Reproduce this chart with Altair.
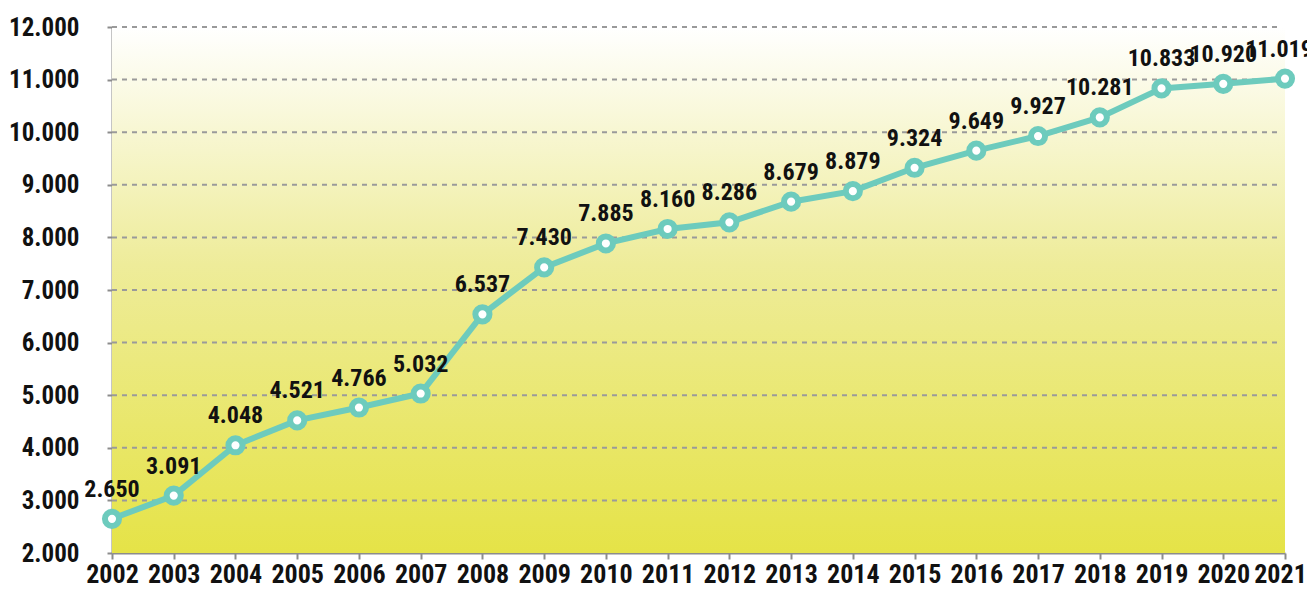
import altair as alt
import pandas as pd

years = list(range(2002, 2022))
values = [2650, 3091, 4048, 4521, 4766, 5032, 6537, 7430, 7885, 8160,
          8286, 8679, 8879, 9324, 9649, 9927, 10281, 10833, 10920, 11019]
y_ticks = [2000, 3000, 4000, 5000, 6000, 7000, 8000, 9000, 10000, 11000, 12000]
grid_values = y_ticks[1:]

FONT = "'Roboto Condensed', 'Open Sans Condensed', sans-serif"
TEAL = "#6dcbbd"
AXIS_GREY = "#8c8c8c"

df = pd.DataFrame({
    "year": years,
    "value": values,
    "label": [f"{v:,}".replace(",", ".") for v in values],
})
bg = pd.DataFrame({"x": [years[0]], "x2": [years[-1]], "y": [y_ticks[0]], "y2": [y_ticks[-1]]})
grid = pd.DataFrame({"g": grid_values})

xscale = alt.Scale(domain=[years[0], years[-1]], nice=False, zero=False)
yscale = alt.Scale(domain=[y_ticks[0], y_ticks[-1]], nice=False, zero=False)

x_axis = alt.Axis(values=years, format="d", title=None, grid=False,
                  labelFont=FONT, labelFontSize=26, labelFontWeight="bold", labelColor="#111111",
                  domainColor=AXIS_GREY, domainWidth=2, tickColor=AXIS_GREY, tickWidth=2,
                  tickSize=6, labelPadding=2, labelFlush=False, labelOverlap=False,
                  labelOffset={"condition": {"test": "datum.value == 2021", "value": -5}, "value": 0})
y_axis = alt.Axis(values=y_ticks, title=None, grid=False,
                  labelExpr="replace(format(datum.value, ','), ',', '.')",
                  labelFont=FONT, labelFontSize=25, labelFontWeight="bold", labelColor="#111111",
                  domainColor=AXIS_GREY, domainWidth=2, tickColor=AXIS_GREY, tickWidth=2,
                  tickSize=5, labelPadding=28)

gradient = alt.LinearGradient(
    gradient="linear",
    stops=[alt.GradientStop(color="#ffffff", offset=0),
           alt.GradientStop(color="#eeec9a", offset=0.45),
           alt.GradientStop(color="#e5e347", offset=1)],
    x1=0, x2=0, y1=0, y2=1,
)

background = alt.Chart(bg).mark_rect(color=gradient).encode(
    x=alt.X("x:Q", scale=xscale, axis=x_axis),
    x2="x2:Q",
    y=alt.Y("y:Q", scale=yscale, axis=y_axis),
    y2="y2:Q",
)

grid_rules = alt.Chart(grid).mark_rule(color="#9a9a9a", strokeWidth=2, strokeDash=[5, 5]).encode(
    y=alt.Y("g:Q", scale=yscale),
    x=alt.value(0),
    x2=alt.value(1170),
)

base = alt.Chart(df).encode(
    x=alt.X("year:Q", scale=xscale),
    y=alt.Y("value:Q", scale=yscale),
)

line = base.mark_line(color=TEAL, strokeWidth=6)
points = base.mark_point(shape="circle", filled=True, fill="white", stroke=TEAL,
                         strokeWidth=6, size=200, opacity=1)
label_style = dict(font=FONT, fontSize=24, fontWeight="bold", color="#111111",
                   baseline="alphabetic", dy=-22)
labels = base.transform_filter(alt.datum.year < years[-1]).mark_text(
    align="center", **label_style).encode(text="label:N")
last_label = base.transform_filter(alt.datum.year == years[-1]).mark_text(
    align="center", dx=-6, **label_style).encode(text="label:N")

chart = alt.layer(background, grid_rules, line, points, labels, last_label).properties(
    width=1173, height=526,
    autosize=alt.AutoSizeParams(type="none"),
    padding={"left": 104, "top": 19, "right": 22, "bottom": 34},
).configure_view(stroke=None)

chart.save("out.html", embed_options={"renderer": "svg", "actions": False})
